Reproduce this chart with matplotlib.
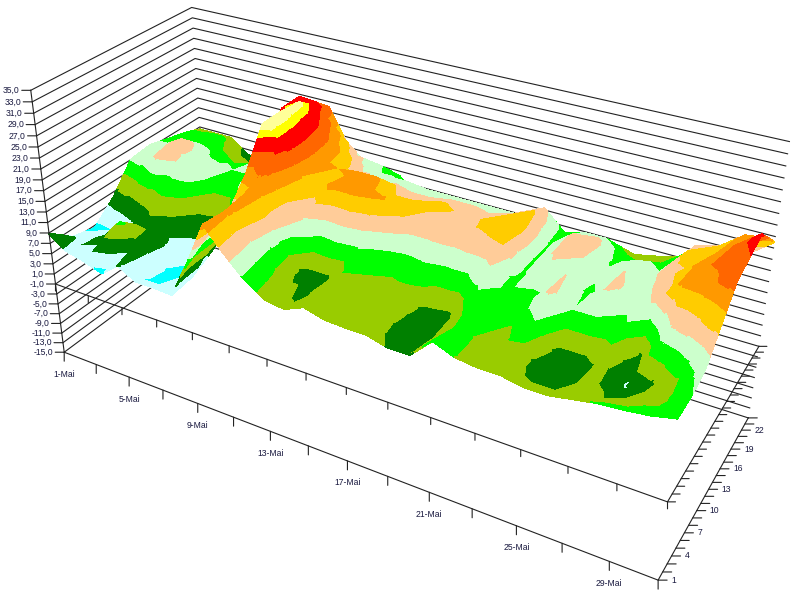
import numpy as np
import matplotlib
matplotlib.use('Agg')
import matplotlib.pyplot as plt
from mpl_toolkits.mplot3d import proj3d
from mpl_toolkits.mplot3d.art3d import Poly3DCollection

days = list(range(1, 32))
hours = [1, 4, 7, 10, 13, 16, 19, 22, 24]
# temperature per day, one list per hour of the day
temp_h01 = [8.9,6.5,5.7,4.5,7.1,5.2,5.2,5,12,20,16,12.5,10,9.5,11,10,9.8,9.8,8.8,8.8,12.5,11,10.5,10.5,9.8,9.8,10.5,11.2,11.5,12,12.9]
temp_h04 = [5.5,6,7.8,11.5,8,5.5,4.3,5.5,15,19.5,15.5,12,9.5,8.5,10.5,10,9.5,9.5,8,8,11,11,10,9.5,8,8,9.8,8.5,9.5,10.5,13]
temp_h07 = [4.5,5,6,8,7.5,6.5,6,7.5,15,20,17,11.5,8,8,11,10.5,10,10,8.5,8,11.5,12,11,13,8,8,9.5,6.7,8.5,11,14]
temp_h10 = [8,9,10,11,10,8.5,8,10,20,21.5,17.5,15,13.5,14,13.5,12.5,12,12.5,12,12,14,12.5,12,15.5,13,13,12.5,8.5,14.5,16,18]
temp_h13 = [13,14,16,14.5,14.5,11,11,14,27,24,19,18,20.5,20.5,19.5,17.5,16,16,16,16.5,17,12.5,14.5,15,12.5,15.5,13.5,15.5,20,20.5,22]
temp_h16 = [13.5,14.5,16.5,14,13.5,13,13,20,27,24,20,19,19.5,19.5,17,17,17.8,17,16.5,18,18.8,12.5,15.5,15,13.5,15,14,16.5,19.5,21.5,23]
temp_h19 = [12.5,12.5,13,12,11,12,14,24.5,26.5,23,19.5,16,15,15.5,15,15,15.5,15.5,15,16,17.5,12.5,15.5,16,12.5,14,13,17.5,18,21,24]
temp_h22 = [11.5,12,11.5,9.5,8.5,8.5,13,24.5,23.5,20,16,13.5,13.5,13.5,13,13,13,13,13,13,15.5,12,13,13,11,10.5,11.5,16,17,20,20.5]
temp_h24 = [10.5,10.5,10.5,8,6,7,9,21.5,22,16,13,13,12,8.5,8.5,8.5,8.5,8.5,8.5,8.5,8.5,8.5,8.5,9,9.2,10,11,14,15,15,18]

band_edges = [-15, 5, 7, 9, 11, 13, 15, 17, 19, 21, 23, 25, 26, 35]
band_colors = ['#00ffff', '#ccffff', '#008000', '#99cc00', '#00ff00', '#ccffcc', '#ffcc99',
               '#ffcc00', '#ff9900', '#ff6600', '#ff0000', '#ffff00', '#ffff99']
z_ticks = list(range(-15, 36, 2))
day_labels = {1: '1-Mai', 5: '5-Mai', 9: '9-Mai', 13: '13-Mai', 17: '17-Mai', 21: '21-Mai', 25: '25-Mai', 29: '29-Mai'}
hour_labels = [1, 4, 7, 10, 13, 16, 19, 22]

Z = np.array([temp_h01, temp_h04, temp_h07, temp_h10, temp_h13, temp_h16, temp_h19, temp_h22, temp_h24])


def clip_poly(poly, level, keep_above):
    # one pass of polygon clipping against a horizontal plane
    out = []
    for i in range(len(poly)):
        a, b = poly[i], poly[(i + 1) % len(poly)]
        a_in = a[2] >= level if keep_above else a[2] <= level
        b_in = b[2] >= level if keep_above else b[2] <= level
        if a_in:
            out.append(a)
        if a_in != b_in:
            f = (level - a[2]) / (b[2] - a[2])
            out.append(tuple(a[k] + f * (b[k] - a[k]) for k in range(3)))
    return out


polys, face = [], []
for i in range(len(hours) - 1):
    for j in range(len(days) - 1):
        p00 = (days[j], hours[i], Z[i, j])
        p10 = (days[j + 1], hours[i], Z[i, j + 1])
        p01 = (days[j], hours[i + 1], Z[i + 1, j])
        p11 = (days[j + 1], hours[i + 1], Z[i + 1, j + 1])
        for tri in ([p00, p10, p11], [p00, p11, p01]):
            for b, col in enumerate(band_colors):
                part = clip_poly(tri, band_edges[b], True)
                if part:
                    part = clip_poly(part, band_edges[b + 1], False)
                if len(part) >= 3:
                    polys.append(part)
                    face.append(col)

fig = plt.figure(figsize=(8, 6), dpi=100)
ax = fig.add_axes([0.0369, 0.1624, 0.8421, 1.1227], projection='3d')
ax.view_init(27.1664, -59.5278, 0.1929)
ax.set_proj_type('persp', focal_length=0.3811)
ax.set_box_aspect((1, 0.3855, 0.4618))
ax.set_xlim(-4.61, 25.39)
ax.set_ylim(16.7412, 39.7412)
ax.set_zlim(-15, 35)
ax.set_axis_off()
ax.computed_zorder = False
M = ax.get_proj()

line_kw = dict(color='#222222', lw=0.8, clip_on=False)

# walls
for z in z_ticks:
    ax.plot([1, 1, 31], [1, 24, 24], [z, z, z], zorder=1, **line_kw)

surf = Poly3DCollection(polys, facecolors=face, edgecolors=face, linewidths=0.6, antialiased=False,
                        zsort='average', clip_on=False, zorder=2)
ax.add_collection3d(surf)

# axes
ax.plot([1, 1], [1, 1], [-15, 35], zorder=3, **line_kw)
for z in (-15, -1):
    ax.plot([1, 31, 31], [1, 1, 24], [z, z, z], zorder=3, **line_kw)


def mark(d, h, z, dx, dy, text='', ha='center', tick=True):
    x, y, _ = proj3d.proj_transform(d, h, z, M)
    arrow = dict(arrowstyle='-', lw=0.8, color='#222222', shrinkA=0, shrinkB=0) if tick else None
    ax.annotate(text, xy=(x, y), xytext=(dx, dy), textcoords='offset pixels', ha=ha, va='center',
                fontsize=6.2, family='Liberation Sans', color='#1a1a40', annotation_clip=False,
                arrowprops=arrow, zorder=4)


for z in z_ticks:
    mark(1, 1, z, -9, 0)
    mark(1, 1, z, -11, 0, ('%.1f' % z).replace('.', ','), ha='right', tick=False)

for d in range(1, 32, 2):
    mark(d, 1, -15, 0, -9)
    mark(d, 1, -1, 0, -7)
for d, name in day_labels.items():
    mark(d, 1, -15, 0, -22, name, tick=False)

for h in range(1, 25):
    mark(31, h, -15, 9, 0)
    mark(31, h, -1, 8, 0)
for h in hour_labels:
    mark(31, h, -15, 13, 0, str(h), ha='left', tick=False)

fig.savefig('out.png', dpi=100)
